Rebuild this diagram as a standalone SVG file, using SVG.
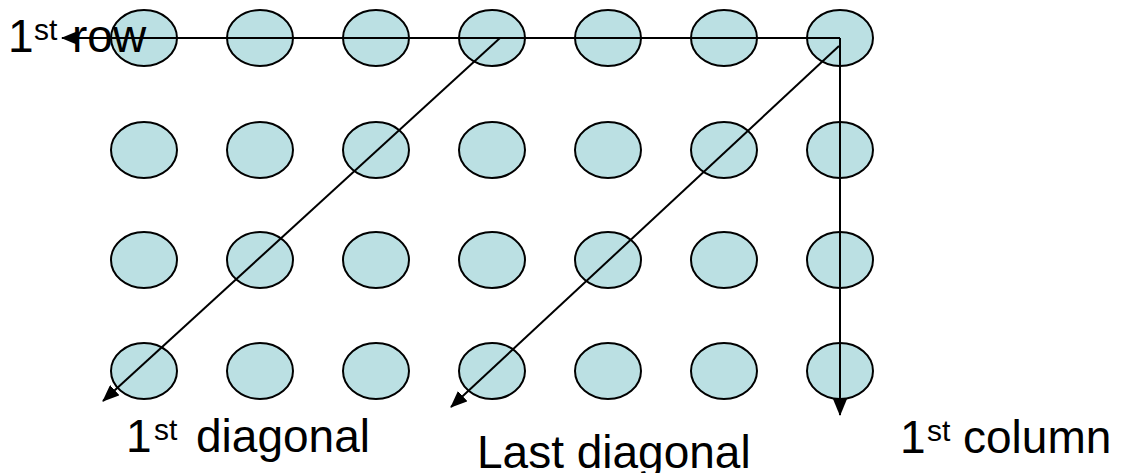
<svg xmlns="http://www.w3.org/2000/svg" width="1134" height="473" viewBox="0 0 1134 473">
  <style>
    .dot { fill: #bbe0e3; stroke: #000; stroke-width: 2; }
    .arrow { fill: none; stroke: #000; stroke-width: 2; marker-end: url(#head); }
    .label { font-family: "Liberation Sans", Arial, sans-serif; font-size: 46px; fill: #000; }
    .sup { font-size: 30px; }
  </style>
  <defs>
    <marker id="head" viewBox="0 0 17 14" refX="16" refY="7" markerWidth="17" markerHeight="14" markerUnits="userSpaceOnUse" orient="auto">
      <path d="M0,0 L17,7 L0,14 Z" fill="#000"/>
    </marker>
  </defs>

  <!-- 7 x 4 grid of elements -->
  <g id="grid">
    <g id="r1">
      <ellipse id="n11" class="dot" cx="144" cy="38" rx="33" ry="28"/>
      <ellipse id="n12" class="dot" cx="260" cy="38" rx="33" ry="28"/>
      <ellipse id="n13" class="dot" cx="376" cy="38" rx="33" ry="28"/>
      <ellipse id="n14" class="dot" cx="492" cy="38" rx="33" ry="28"/>
      <ellipse id="n15" class="dot" cx="608" cy="38" rx="33" ry="28"/>
      <ellipse id="n16" class="dot" cx="724" cy="38" rx="33" ry="28"/>
      <ellipse id="n17" class="dot" cx="840" cy="38" rx="33" ry="28"/>
    </g>
    <g id="r2">
      <ellipse id="n21" class="dot" cx="144" cy="150" rx="33" ry="28"/>
      <ellipse id="n22" class="dot" cx="260" cy="150" rx="33" ry="28"/>
      <ellipse id="n23" class="dot" cx="376" cy="150" rx="33" ry="28"/>
      <ellipse id="n24" class="dot" cx="492" cy="150" rx="33" ry="28"/>
      <ellipse id="n25" class="dot" cx="608" cy="150" rx="33" ry="28"/>
      <ellipse id="n26" class="dot" cx="724" cy="150" rx="33" ry="28"/>
      <ellipse id="n27" class="dot" cx="840" cy="150" rx="33" ry="28"/>
    </g>
    <g id="r3">
      <ellipse id="n31" class="dot" cx="144" cy="260" rx="33" ry="28"/>
      <ellipse id="n32" class="dot" cx="260" cy="260" rx="33" ry="28"/>
      <ellipse id="n33" class="dot" cx="376" cy="260" rx="33" ry="28"/>
      <ellipse id="n34" class="dot" cx="492" cy="260" rx="33" ry="28"/>
      <ellipse id="n35" class="dot" cx="608" cy="260" rx="33" ry="28"/>
      <ellipse id="n36" class="dot" cx="724" cy="260" rx="33" ry="28"/>
      <ellipse id="n37" class="dot" cx="840" cy="260" rx="33" ry="28"/>
    </g>
    <g id="r4">
      <ellipse id="n41" class="dot" cx="144" cy="371" rx="33" ry="28"/>
      <ellipse id="n42" class="dot" cx="260" cy="371" rx="33" ry="28"/>
      <ellipse id="n43" class="dot" cx="376" cy="371" rx="33" ry="28"/>
      <ellipse id="n44" class="dot" cx="492" cy="371" rx="33" ry="28"/>
      <ellipse id="n45" class="dot" cx="608" cy="371" rx="33" ry="28"/>
      <ellipse id="n46" class="dot" cx="724" cy="371" rx="33" ry="28"/>
      <ellipse id="n47" class="dot" cx="840" cy="371" rx="33" ry="28"/>
    </g>
  </g>

  <!-- traversal arrows -->
  <g id="connectors">
    <line class="arrow" x1="840" y1="38" x2="62" y2="38"/>
    <line class="arrow" x1="840" y1="38" x2="840" y2="415"/>
    <line class="arrow" x1="500" y1="38" x2="103" y2="401"/>
    <line class="arrow" x1="839" y1="46" x2="451" y2="407"/>
  </g>

  <!-- labels -->
  <g id="labels">
    <text id="t-row" class="label" x="8" y="52">1<tspan class="sup" x="34" dy="-12">st</tspan><tspan x="72" dy="12">row</tspan></text>
    <text id="t-diag1" class="label" x="126" y="452">1<tspan class="sup" x="154" dy="-12">st</tspan><tspan x="196" dy="12">diagonal</tspan></text>
    <text id="t-diaglast" class="label" x="477" y="468">Last diagonal</text>
    <text id="t-col" class="label" x="900" y="453">1<tspan class="sup" x="927" dy="-12">st</tspan><tspan x="963" dy="12">column</tspan></text>
  </g>
</svg>
